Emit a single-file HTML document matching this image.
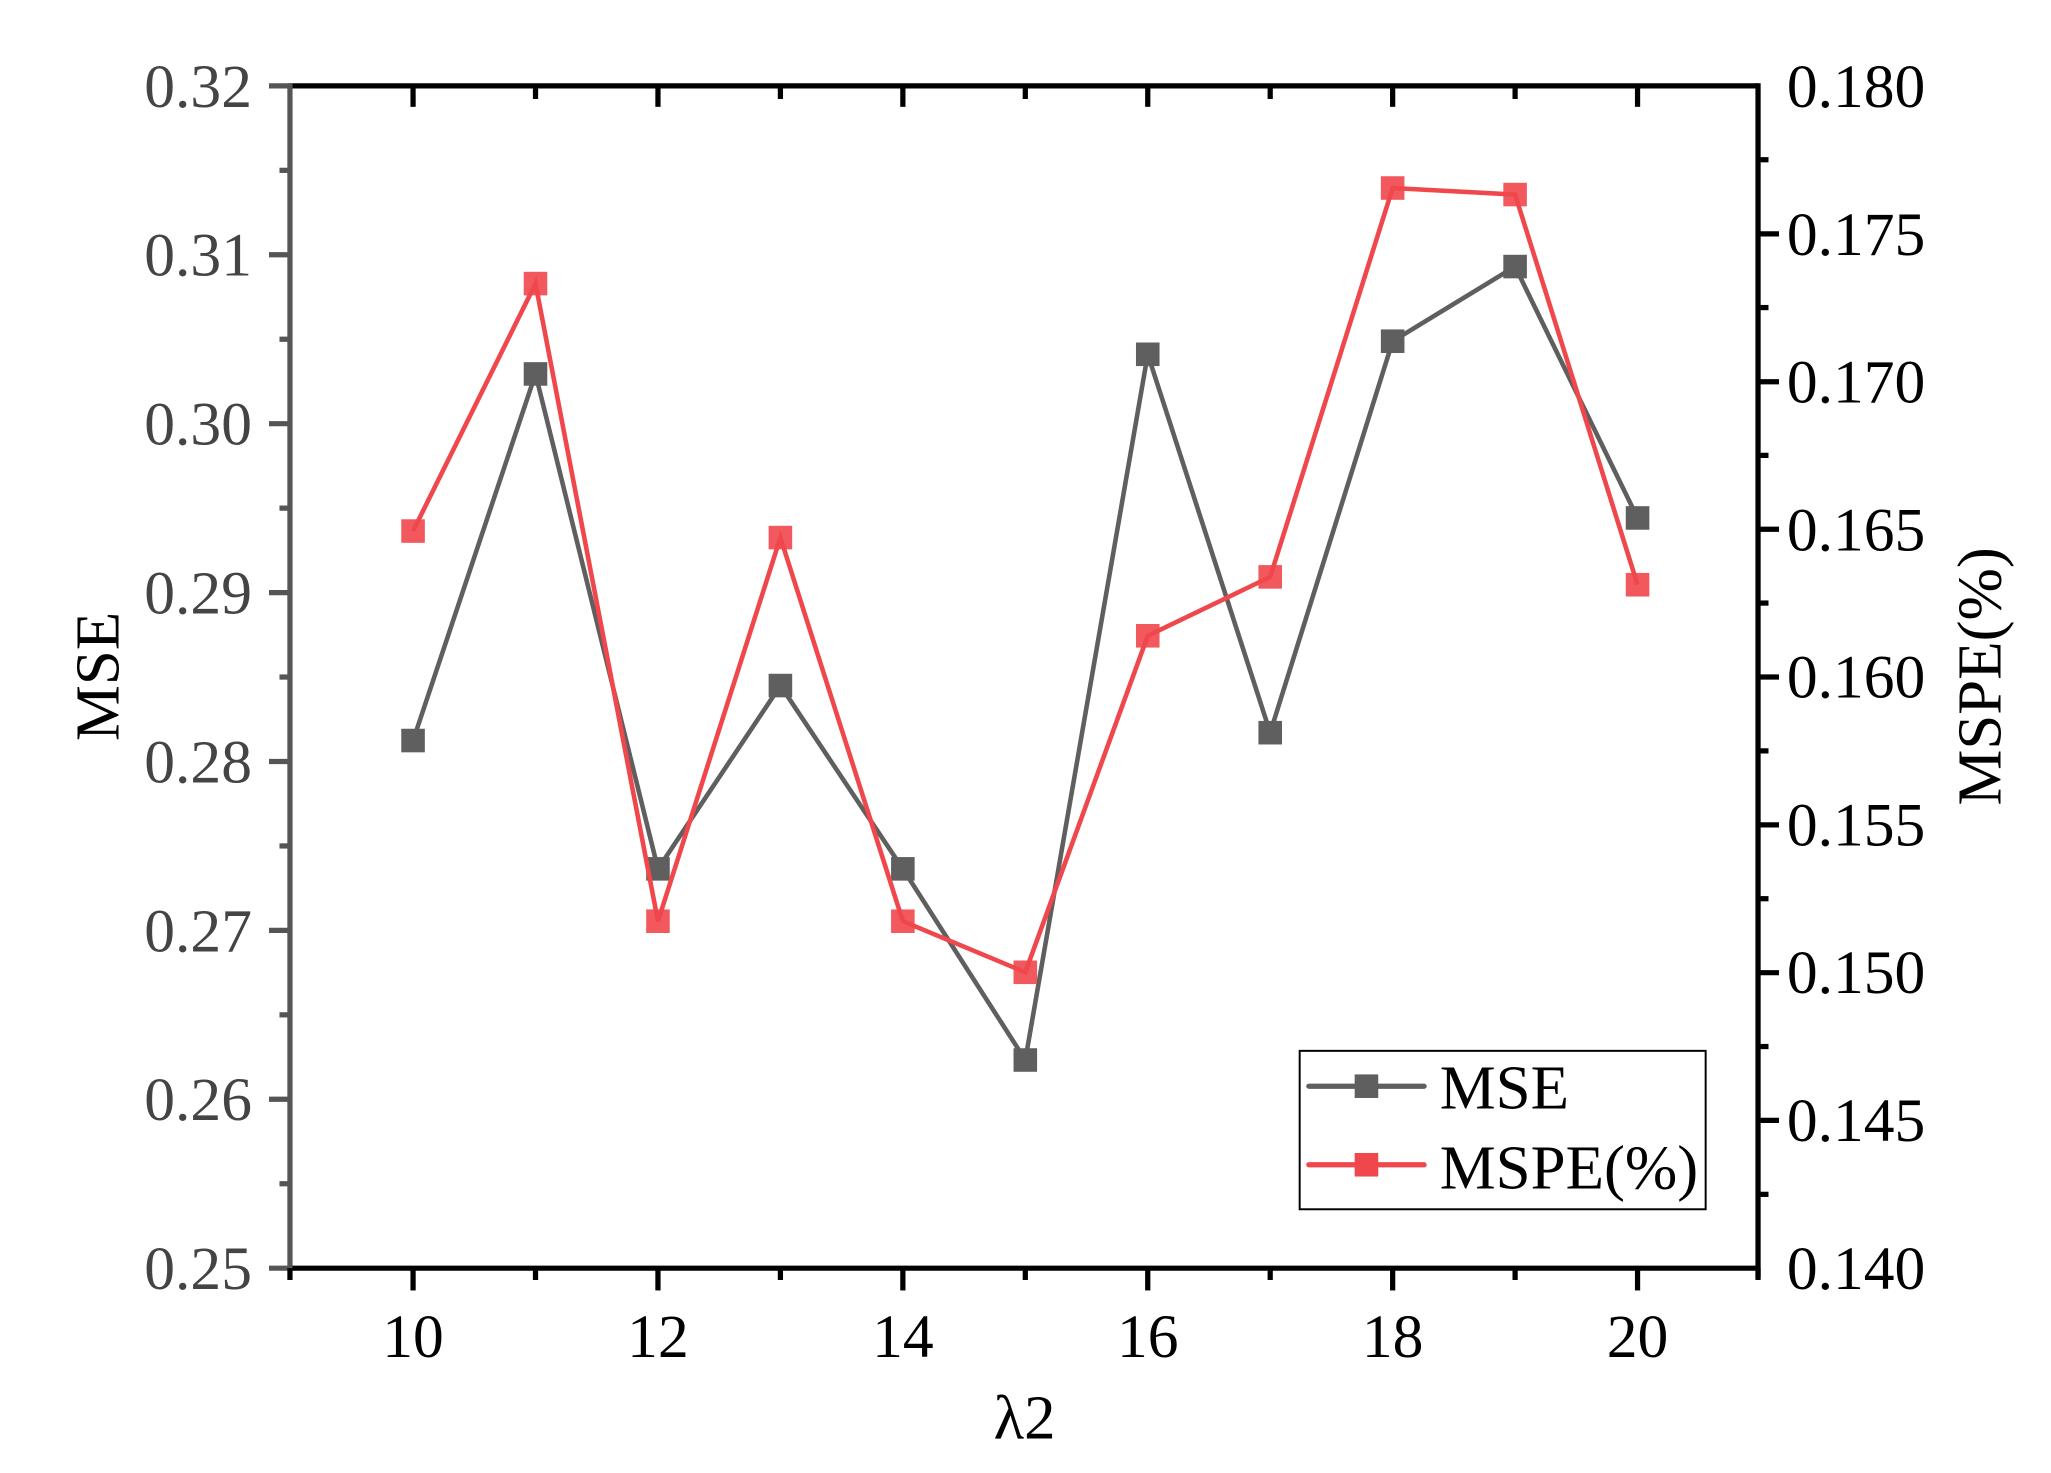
<!DOCTYPE html>
<html><head><meta charset="utf-8"><style>html,body{margin:0;padding:0;background:#fff}svg{display:block}</style></head>
<body>
<svg width="2051" height="1473" viewBox="0 0 1547 1123" preserveAspectRatio="none" xmlns="http://www.w3.org/2000/svg" font-family="'Liberation Serif', serif">
<rect width="1547" height="1123" fill="#fff"/>
<g transform="translate(0.4 -0.4) scale(0.9878 0.9982)">
<line x1="221" y1="66" x2="1342" y2="66" stroke="#000" stroke-width="4"/>
<line x1="221" y1="969" x2="1342" y2="969" stroke="#000" stroke-width="4"/>
<line x1="1342" y1="64" x2="1342" y2="976" stroke="#000" stroke-width="4"/>
<line x1="221" y1="64" x2="221" y2="971" stroke="#555" stroke-width="4"/>
<g stroke="#555" stroke-width="4">
<line x1="205" y1="66" x2="221" y2="66"/><line x1="205" y1="195" x2="221" y2="195"/><line x1="205" y1="324" x2="221" y2="324"/><line x1="205" y1="453" x2="221" y2="453"/><line x1="205" y1="582" x2="221" y2="582"/><line x1="205" y1="711" x2="221" y2="711"/><line x1="205" y1="840" x2="221" y2="840"/><line x1="205" y1="969" x2="221" y2="969"/>
<line x1="213" y1="130.5" x2="221" y2="130.5"/><line x1="213" y1="259.5" x2="221" y2="259.5"/><line x1="213" y1="388.5" x2="221" y2="388.5"/><line x1="213" y1="517.5" x2="221" y2="517.5"/><line x1="213" y1="646.5" x2="221" y2="646.5"/><line x1="213" y1="775.5" x2="221" y2="775.5"/><line x1="213" y1="904.5" x2="221" y2="904.5"/>
</g>
<g stroke="#000" stroke-width="4">
<line x1="1342" y1="179" x2="1358" y2="179"/><line x1="1342" y1="292" x2="1358" y2="292"/><line x1="1342" y1="404.6" x2="1358" y2="404.6"/><line x1="1342" y1="517.5" x2="1358" y2="517.5"/><line x1="1342" y1="630.4" x2="1358" y2="630.4"/><line x1="1342" y1="743.3" x2="1358" y2="743.3"/><line x1="1342" y1="856.1" x2="1358" y2="856.1"/>
<line x1="1342" y1="122.4" x2="1350" y2="122.4"/><line x1="1342" y1="235.3" x2="1350" y2="235.3"/><line x1="1342" y1="348.2" x2="1350" y2="348.2"/><line x1="1342" y1="461" x2="1350" y2="461"/><line x1="1342" y1="573.9" x2="1350" y2="573.9"/><line x1="1342" y1="686.8" x2="1350" y2="686.8"/><line x1="1342" y1="799.7" x2="1350" y2="799.7"/><line x1="1342" y1="912.6" x2="1350" y2="912.6"/>
<line x1="315" y1="969" x2="315" y2="986"/><line x1="502" y1="969" x2="502" y2="986"/><line x1="689" y1="969" x2="689" y2="986"/><line x1="876" y1="969" x2="876" y2="986"/><line x1="1063" y1="969" x2="1063" y2="986"/><line x1="1250" y1="969" x2="1250" y2="986"/>
<line x1="408.5" y1="969" x2="408.5" y2="978"/><line x1="595.5" y1="969" x2="595.5" y2="978"/><line x1="782.5" y1="969" x2="782.5" y2="978"/><line x1="969.5" y1="969" x2="969.5" y2="978"/><line x1="1156.5" y1="969" x2="1156.5" y2="978"/>
<line x1="221" y1="969" x2="221" y2="978"/><line x1="1342" y1="969" x2="1342" y2="978"/>
<line x1="315" y1="66" x2="315" y2="82"/><line x1="502" y1="66" x2="502" y2="82"/><line x1="689" y1="66" x2="689" y2="82"/><line x1="876" y1="66" x2="876" y2="82"/><line x1="1063" y1="66" x2="1063" y2="82"/><line x1="1250" y1="66" x2="1250" y2="82"/>
<line x1="408.5" y1="66" x2="408.5" y2="76"/><line x1="595.5" y1="66" x2="595.5" y2="76"/><line x1="782.5" y1="66" x2="782.5" y2="76"/><line x1="969.5" y1="66" x2="969.5" y2="76"/><line x1="1156.5" y1="66" x2="1156.5" y2="76"/>
</g>
<g font-size="47" fill="#444" text-anchor="end">
<text x="192" y="82">0.32</text><text x="192" y="211">0.31</text><text x="192" y="340">0.30</text><text x="192" y="469">0.29</text><text x="192" y="598">0.28</text><text x="192" y="727">0.27</text><text x="192" y="856">0.26</text><text x="192" y="985">0.25</text>
</g>
<g font-size="47" fill="#000">
<text x="1364" y="82">0.180</text><text x="1364" y="195">0.175</text><text x="1364" y="308">0.170</text><text x="1364" y="421">0.165</text><text x="1364" y="533">0.160</text><text x="1364" y="646">0.155</text><text x="1364" y="759">0.150</text><text x="1364" y="872">0.145</text><text x="1364" y="985">0.140</text>
</g>
<g font-size="47" fill="#000" text-anchor="middle">
<text x="315" y="1037">10</text><text x="502" y="1037">12</text><text x="689" y="1037">14</text><text x="876" y="1037">16</text><text x="1063" y="1037">18</text><text x="1250" y="1037">20</text>
<text x="782" y="1099" font-size="48">λ2</text>
<text transform="translate(90 517) rotate(-90)" font-size="48">MSE</text>
<text transform="translate(1527 517) rotate(-90)" font-size="48">MSPE(%)</text>
</g>
<polyline fill="none" stroke="#5f5f5f" stroke-width="3.5" points="315,566 408.5,286 502,664 595.5,524 689,664 782.5,810 876,271 969.5,560 1063,261 1156.5,204 1250,396"/>
<g fill="#5f5f5f">
<rect x="306" y="557" width="18" height="18"/><rect x="399.5" y="277" width="18" height="18"/><rect x="493" y="655" width="18" height="18"/><rect x="586.5" y="515" width="18" height="18"/><rect x="680" y="655" width="18" height="18"/><rect x="773.5" y="801" width="18" height="18"/><rect x="867" y="262" width="18" height="18"/><rect x="960.5" y="551" width="18" height="18"/><rect x="1054" y="252" width="18" height="18"/><rect x="1147.5" y="195" width="18" height="18"/><rect x="1241" y="387" width="18" height="18"/>
</g>
<polyline fill="none" stroke="#f0474c" stroke-width="3.5" points="315,406 408.5,217 502,704 595.5,411 689,704 782.5,743 876,486 969.5,441 1063,144 1156.5,149 1250,447"/>
<g fill="#f0474c" fill-opacity="0.9">
<rect x="306" y="397" width="18" height="18"/><rect x="399.5" y="208" width="18" height="18"/><rect x="493" y="695" width="18" height="18"/><rect x="586.5" y="402" width="18" height="18"/><rect x="680" y="695" width="18" height="18"/><rect x="773.5" y="734" width="18" height="18"/><rect x="867" y="477" width="18" height="18"/><rect x="960.5" y="432" width="18" height="18"/><rect x="1054" y="135" width="18" height="18"/><rect x="1147.5" y="140" width="18" height="18"/><rect x="1241" y="438" width="18" height="18"/>
</g>
<rect x="992" y="803" width="310" height="121" fill="#fff" stroke="#000" stroke-width="1.5"/>
<line x1="999" y1="830" x2="1087" y2="830" stroke="#5f5f5f" stroke-width="4" stroke-linecap="round"/>
<rect x="1034" y="821" width="18" height="18" fill="#5f5f5f"/>
<line x1="999" y1="890" x2="1087" y2="890" stroke="#f0474c" stroke-width="4" stroke-linecap="round"/>
<rect x="1034" y="881" width="18" height="18" fill="#f0474c"/>
<text x="1099" y="847" font-size="48" fill="#000">MSE</text>
<text x="1099" y="908" font-size="48" fill="#000">MSPE(%)</text>
</g>
</svg>
</body></html>
